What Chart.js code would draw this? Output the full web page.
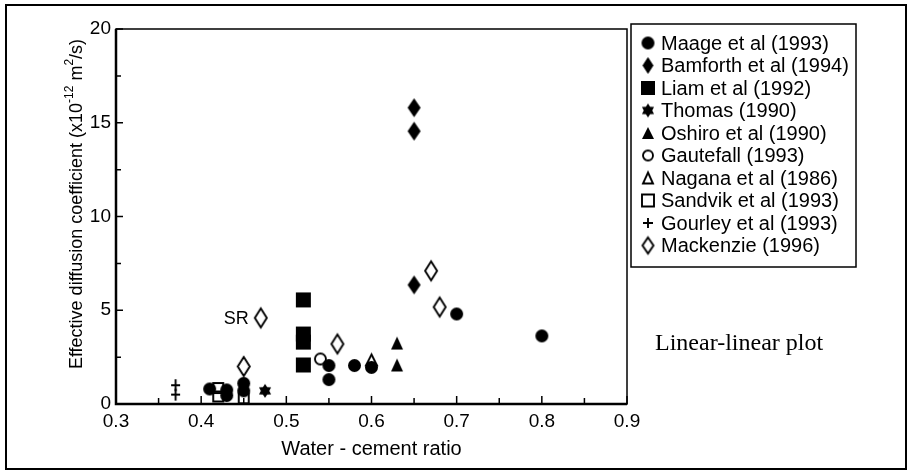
<!DOCTYPE html>
<html>
<head>
<meta charset="utf-8">
<script src="https://cdn.jsdelivr.net/npm/chart.js@4/dist/chart.umd.min.js"></script>
<style>
  html, body { margin: 0; padding: 0; background: #fff; }
  #wrap { width: 908px; height: 471px; }
</style>
</head>
<body>
<div id="wrap"><canvas id="chart" width="908" height="471"></canvas></div>
<script>
// Effective diffusion coefficient against water-cement ratio, per source
const sources = [
  'Maage et al (1993)', 'Bamforth et al (1994)', 'Liam et al (1992)', 'Thomas (1990)',
  'Oshiro et al (1990)', 'Gautefall (1993)', 'Nagana et al (1986)', 'Sandvik et al (1993)',
  'Gourley et al (1993)', 'Mackenzie (1996)'
];

const maageX = [0.41, 0.43, 0.43, 0.45, 0.45, 0.55, 0.55, 0.58, 0.60, 0.70, 0.80];
const maageY = [0.8, 0.75, 0.45, 1.1, 0.7, 2.05, 1.3, 2.05, 1.95, 4.8, 3.63];
const bamforthX = [0.65, 0.65, 0.65];
const bamforthY = [15.8, 14.55, 6.35];
const liamX = [0.52, 0.52, 0.52, 0.52];
const liamY = [5.55, 3.73, 3.3, 2.08];
const thomasX = [0.475];
const thomasY = [0.7];
const oshiroX = [0.63, 0.63];
const oshiroY = [3.25, 2.08];
const gautefallX = [0.54];
const gautefallY = [2.4];
const naganaX = [0.60];
const naganaY = [2.35];
const sandvikX = [0.42, 0.42, 0.45];
const sandvikY = [0.85, 0.4, 0.3];
const gourleyX = [0.37, 0.37];
const gourleyY = [1.0, 0.5];
const mackenzieX = [0.45, 0.47, 0.56, 0.67, 0.68];
const mackenzieY = [2.0, 4.59, 3.2, 7.1, 5.17];

const xTicks = [0.3, 0.4, 0.5, 0.6, 0.7, 0.8, 0.9];
const yTicks = [0, 5, 10, 15, 20];
const srLabel = 'SR';
const srPoint = [0.47, 4.59];

const FONT = '"Liberation Sans", Arial, sans-serif';

// small offscreen canvases used as point styles
function marker(kind, w, h, filled) {
  const pad = 3;
  const c = document.createElement('canvas');
  c.width = Math.ceil(w + pad * 2);
  c.height = Math.ceil(h + pad * 2);
  const g = c.getContext('2d');
  const cx = c.width / 2, cy = c.height / 2;
  g.fillStyle = '#000';
  g.strokeStyle = '#000';
  g.lineWidth = 1.9;
  g.beginPath();
  if (kind === 'circle') {
    g.arc(cx, cy, w / 2, 0, Math.PI * 2);
  } else if (kind === 'diamond') {
    g.moveTo(cx, cy - h / 2); g.lineTo(cx + w / 2, cy);
    g.lineTo(cx, cy + h / 2); g.lineTo(cx - w / 2, cy); g.closePath();
  } else if (kind === 'square') {
    g.rect(cx - w / 2, cy - h / 2, w, h);
  } else if (kind === 'triangle') {
    g.moveTo(cx, cy - h / 2); g.lineTo(cx + w / 2, cy + h / 2);
    g.lineTo(cx - w / 2, cy + h / 2); g.closePath();
  } else if (kind === 'star') {
    for (let k = 0; k < 12; k++) {
      const r = k % 2 ? w * 0.3 : w / 2;
      const a = -Math.PI / 2 + k * Math.PI / 6;
      g.lineTo(cx + r * Math.cos(a), cy + r * Math.sin(a));
    }
    g.closePath();
  } else if (kind === 'plus') {
    g.moveTo(cx, cy - h / 2); g.lineTo(cx, cy + h / 2);
    g.moveTo(cx - w / 2, cy); g.lineTo(cx + w / 2, cy);
  }
  if (filled) g.fill(); else g.stroke();
  return c;
}

const marks = [
  marker('circle', 13, 13, true),
  marker('diamond', 13, 19, true),
  marker('square', 15, 15, true),
  marker('star', 14, 14, true),
  marker('triangle', 12, 13, true),
  marker('circle', 11, 11, false),
  marker('triangle', 11, 11, false),
  marker('square', 10, 10, false),
  marker('plus', 9, 12, false),
  marker('diamond', 12, 19, false)
];
const legendMarks = [
  marker('circle', 13, 13, true),
  marker('diamond', 11, 17, true),
  marker('square', 14, 14, true),
  marker('star', 14, 14, true),
  marker('triangle', 12, 12, true),
  marker('circle', 10, 10, false),
  marker('triangle', 10, 11, false),
  marker('square', 12, 12, false),
  marker('plus', 10, 10, false),
  marker('diamond', 11, 16, false)
];

const seriesX = [maageX, bamforthX, liamX, thomasX, oshiroX, gautefallX, naganaX, sandvikX, gourleyX, mackenzieX];
const seriesY = [maageY, bamforthY, liamY, thomasY, oshiroY, gautefallY, naganaY, sandvikY, gourleyY, mackenzieY];

const datasets = sources.map((name, i) => ({
  label: name,
  data: seriesX[i].map((x, j) => ({ x: x, y: seriesY[i][j] })),
  pointStyle: marks[i],
  pointRadius: 6,
  showLine: false
}));

const isMultiple = (v, step) => Math.abs(v / step - Math.round(v / step)) < 1e-6;

// frame, inward ticks, legend box, titles and notes
const decorations = {
  id: 'decorations',
  afterDraw(chart) {
    const ctx = chart.ctx;
    const a = chart.chartArea;
    const xs = chart.scales.x, ys = chart.scales.y;
    ctx.save();
    ctx.strokeStyle = '#000';
    ctx.fillStyle = '#000';

    // outer frame
    ctx.lineWidth = 2;
    ctx.strokeRect(6, 5, 900, 464);

    // plot box
    ctx.lineWidth = 1.5;
    ctx.strokeRect(a.left, a.top, a.right - a.left, a.bottom - a.top);
    ctx.lineWidth = 2.5;
    ctx.beginPath();
    ctx.moveTo(a.left, a.top); ctx.lineTo(a.left, a.bottom); ctx.lineTo(a.right, a.bottom);
    ctx.stroke();

    // inward ticks
    ctx.lineWidth = 1.5;
    ctx.beginPath();
    xs.ticks.forEach(t => {
      const px = xs.getPixelForValue(t.value);
      const len = isMultiple(t.value, 0.1) ? 8 : 6;
      ctx.moveTo(px, a.bottom); ctx.lineTo(px, a.bottom - len);
    });
    ys.ticks.forEach(t => {
      const py = ys.getPixelForValue(t.value);
      const len = isMultiple(t.value, 5) ? 7 : 5;
      ctx.moveTo(a.left, py); ctx.lineTo(a.left + len, py);
    });
    ctx.stroke();

    // legend box
    ctx.lineWidth = 1.5;
    ctx.strokeRect(631, 24, 225, 243);
    ctx.font = '20px ' + FONT;
    ctx.textAlign = 'left';
    ctx.textBaseline = 'middle';
    sources.forEach((name, i) => {
      const y = 43 + i * 22.5;
      const m = legendMarks[i];
      ctx.drawImage(m, 648 - m.width / 2, y - m.height / 2);
      ctx.fillText(name, 661, y + 1);
    });

    // SR note beside its point
    ctx.font = '18px ' + FONT;
    ctx.textAlign = 'right';
    ctx.fillText(srLabel, xs.getPixelForValue(srPoint[0]) - 12, ys.getPixelForValue(srPoint[1]) + 1);

    // x title
    ctx.font = '20px ' + FONT;
    ctx.textAlign = 'center';
    ctx.fillText('Water - cement ratio', (a.left + a.right) / 2, 449);

    // y title with superscripts
    ctx.translate(77, 204);
    ctx.rotate(-Math.PI / 2);
    const parts = [
      ['Effective diffusion coefficient (x10', false],
      ['-12', true],
      [' m', false],
      ['2', true],
      ['/s)', false]
    ];
    const fontFor = sup => (sup ? '12px ' : '18px ') + FONT;
    let total = 0;
    parts.forEach(p => { ctx.font = fontFor(p[1]); total += ctx.measureText(p[0]).width; });
    let cx = -total / 2;
    ctx.textAlign = 'left';
    parts.forEach(p => {
      ctx.font = fontFor(p[1]);
      ctx.fillText(p[0], cx, p[1] ? -7 : 0);
      cx += ctx.measureText(p[0]).width;
    });
    ctx.setTransform(1, 0, 0, 1, 0, 0);

    // plot type note
    ctx.font = '24px "Liberation Serif", "Times New Roman", serif';
    ctx.textAlign = 'left';
    ctx.fillText('Linear-linear plot', 655, 344);
    ctx.restore();
  }
};

new Chart(document.getElementById('chart'), {
  type: 'scatter',
  data: { datasets: datasets },
  options: {
    responsive: false,
    devicePixelRatio: 1,
    animation: false,
    events: [],
    layout: { padding: { left: 0, top: 29, right: 281, bottom: 0 } },
    plugins: { legend: { display: false }, tooltip: { enabled: false } },
    scales: {
      x: {
        type: 'linear',
        min: 0.3,
        max: 0.9,
        afterFit: s => { s.height = 67; },
        grid: { display: false, drawTicks: false },
        border: { display: false },
        ticks: {
          stepSize: 0.05,
          autoSkip: false,
          maxRotation: 0,
          padding: 6,
          color: '#000',
          font: { family: FONT, size: 19 },
          callback: v => (xTicks.some(t => Math.abs(t - v) < 1e-6) ? v.toFixed(1) : '')
        }
      },
      y: {
        type: 'linear',
        min: 0,
        max: 20,
        afterFit: s => { s.width = 116; },
        grid: { display: false, drawTicks: false },
        border: { display: false },
        ticks: {
          stepSize: 2.5,
          autoSkip: false,
          padding: 5,
          color: '#000',
          font: { family: FONT, size: 19 },
          callback: v => (yTicks.includes(v) ? String(v) : '')
        }
      }
    }
  },
  plugins: [decorations]
});
</script>
</body>
</html>
